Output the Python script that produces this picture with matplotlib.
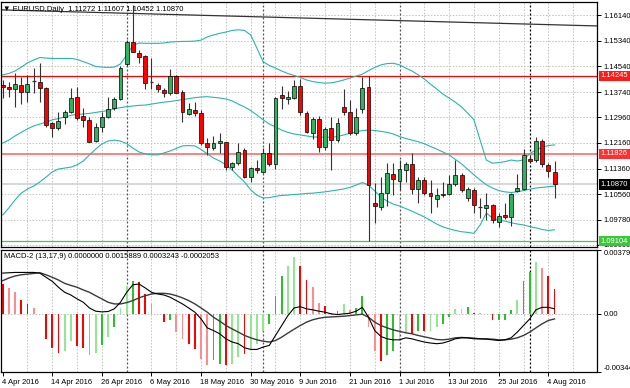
import matplotlib
matplotlib.use('Agg')
import matplotlib.pyplot as plt
import matplotlib.transforms as mtrans
import numpy as np

plt.rcParams['font.family'] = ['Liberation Sans', 'DejaVu Sans']

# ---------------- data ----------------
header_text = '\u25bc EURUSD,Daily  1.11272 1.11607 1.10452 1.10870'
macd_text = 'MACD-2 (13,17,9) 0.0000000 0.0015889 0.0003243 -0.0002053'

x_labels = ['4 Apr 2016', '14 Apr 2016', '26 Apr 2016', '6 May 2016', '18 May 2016',
            '30 May 2016', '9 Jun 2016', '21 Jun 2016', '1 Jul 2016', '13 Jul 2016',
            '25 Jul 2016', '4 Aug 2016']
label_bars = [0, 8, 16, 24, 32, 40, 48, 56, 64, 72, 80, 88]
month_start_bars = [20, 42, 64, 85]

opens = [1.1396, 1.1389, 1.1385, 1.1396, 1.1376, 1.1408, 1.1407, 1.1386, 1.1277, 1.1262,
         1.1298, 1.1313, 1.1358, 1.1300, 1.1288, 1.1222, 1.1267, 1.1296, 1.1324, 1.1353,
         1.1461, 1.1531, 1.1497, 1.1487, 1.1405, 1.1396, 1.1381, 1.1371, 1.1424, 1.1376,
         1.1306, 1.1319, 1.1310, 1.1215, 1.1199, 1.1215, 1.1218, 1.1140, 1.1153, 1.1194,
         1.1111, 1.1139, 1.1126, 1.1186, 1.1151, 1.1365, 1.1353, 1.1355, 1.1393, 1.1310,
         1.1246, 1.1290, 1.1204, 1.1262, 1.1225, 1.1327, 1.1313, 1.1246, 1.1321, 1.1389,
         1.1028, 1.1018, 1.1062, 1.1120, 1.1099, 1.1132, 1.1150, 1.1072, 1.1101, 1.1059,
         1.1043, 1.1054, 1.1057, 1.1088, 1.1116, 1.1046, 1.1070, 1.1018, 1.1013, 1.1022,
         1.0971, 1.0992, 1.0985, 1.1067, 1.1072, 1.1165, 1.1163, 1.1222, 1.1147, 1.11272]
highs = [1.1412, 1.1407, 1.1433, 1.1422, 1.1428, 1.1448, 1.1464, 1.1391, 1.1282, 1.1313,
         1.1319, 1.1386, 1.1391, 1.1324, 1.1298, 1.1277, 1.1313, 1.1360, 1.1360, 1.1455,
         1.1536, 1.1645, 1.1505, 1.1490, 1.1480, 1.1402, 1.1386, 1.1445, 1.1428, 1.1381,
         1.1339, 1.1344, 1.1319, 1.1231, 1.1238, 1.1246, 1.1220, 1.1158, 1.1215, 1.1199,
         1.1142, 1.1163, 1.1199, 1.1217, 1.1360, 1.1393, 1.1379, 1.1412, 1.1414, 1.1316,
         1.1298, 1.1300, 1.1267, 1.1296, 1.1293, 1.1383, 1.1350, 1.1324, 1.1422, 1.1424,
         1.1091, 1.1111, 1.1153, 1.1153, 1.1163, 1.1158, 1.1186, 1.1111, 1.1111, 1.1101,
         1.1075, 1.1096, 1.1116, 1.1163, 1.1122, 1.1080, 1.1075, 1.1044, 1.1060, 1.1025,
         1.0997, 1.1028, 1.1060, 1.1120, 1.1196, 1.1179, 1.1234, 1.1228, 1.1155, 1.11607]
lows = [1.1355, 1.1360, 1.1329, 1.1337, 1.1344, 1.1371, 1.1344, 1.1267, 1.1234, 1.1256,
        1.1275, 1.1308, 1.1288, 1.1267, 1.1219, 1.1219, 1.1251, 1.1295, 1.1319, 1.1350,
        1.1455, 1.1498, 1.1464, 1.1383, 1.1383, 1.1376, 1.1358, 1.1365, 1.1371, 1.1282,
        1.1303, 1.1300, 1.1210, 1.1179, 1.1194, 1.1184, 1.1132, 1.1132, 1.1148, 1.1106,
        1.1096, 1.1122, 1.1123, 1.1144, 1.1134, 1.1321, 1.1337, 1.1352, 1.1303, 1.1246,
        1.1228, 1.1189, 1.1194, 1.1132, 1.1220, 1.1303, 1.1241, 1.1241, 1.1308, 1.0912,
        1.0968, 1.1008, 1.1020, 1.1054, 1.1070, 1.1096, 1.1057, 1.1028, 1.1054, 1.0997,
        1.1016, 1.1049, 1.1054, 1.1082, 1.1065, 1.1036, 1.0999, 1.0982, 1.0977, 1.0966,
        1.0956, 1.0979, 1.0958, 1.1065, 1.1070, 1.1157, 1.1158, 1.1142, 1.1111, 1.10452]
closes = [1.1390, 1.1383, 1.1399, 1.1376, 1.1400, 1.1409, 1.1388, 1.1272, 1.1262, 1.1284,
          1.1311, 1.1355, 1.1293, 1.1288, 1.1220, 1.1267, 1.1298, 1.1321, 1.1352, 1.1450,
          1.1531, 1.1500, 1.1483, 1.1404, 1.1404, 1.1383, 1.1373, 1.1424, 1.1373, 1.1311,
          1.1321, 1.1310, 1.1215, 1.1203, 1.1217, 1.1222, 1.1140, 1.1153, 1.1188, 1.1111,
          1.1137, 1.1132, 1.1186, 1.1151, 1.1355, 1.1355, 1.1358, 1.1393, 1.1313, 1.1251,
          1.1290, 1.1204, 1.1259, 1.1225, 1.1279, 1.1313, 1.1246, 1.1296, 1.1386, 1.1085,
          1.1021, 1.1062, 1.1122, 1.1105, 1.1134, 1.1150, 1.1073, 1.1101, 1.1062, 1.1052,
          1.1054, 1.1057, 1.1087, 1.1116, 1.1070, 1.1073, 1.1023, 1.1017, 1.1022, 1.0975,
          1.0989, 1.0985, 1.1057, 1.1075, 1.1179, 1.1161, 1.1222, 1.1150, 1.1130, 1.10870]

bb_upper = [1.1428, 1.1432, 1.1440, 1.1452, 1.1465, 1.1474, 1.1482, 1.1480, 1.1479, 1.1479,
            1.1479, 1.1479, 1.1476, 1.1469, 1.1462, 1.1454, 1.1452, 1.1451, 1.1452, 1.1462,
            1.1490, 1.1519, 1.1527, 1.1526, 1.1526, 1.1526, 1.1527, 1.1530, 1.1531, 1.1532,
            1.1532, 1.1533, 1.1536, 1.1546, 1.1552, 1.1557, 1.1561, 1.1566, 1.1568, 1.1566,
            1.1552, 1.1511, 1.1469, 1.1457, 1.1449, 1.1440, 1.1432, 1.1426, 1.1420, 1.1412,
            1.1407, 1.1404, 1.1402, 1.1403, 1.1407, 1.1412, 1.1418, 1.1424, 1.1430, 1.1441,
            1.1451, 1.1459, 1.1463, 1.1464, 1.1459, 1.1449, 1.1440, 1.1428, 1.1415, 1.1399,
            1.1384, 1.1368, 1.1356, 1.1343, 1.1328, 1.1309, 1.1288, 1.1225, 1.1163, 1.1153,
            1.1155, 1.1158, 1.1163, 1.1160, 1.1163, 1.1183, 1.1194, 1.1203, 1.1208, 1.1210]
bb_mid = [1.1216, 1.1225, 1.1238, 1.1249, 1.1260, 1.1269, 1.1275, 1.1281, 1.1288, 1.1292,
          1.1297, 1.1302, 1.1305, 1.1306, 1.1308, 1.1311, 1.1314, 1.1317, 1.1322, 1.1326,
          1.1329, 1.1331, 1.1333, 1.1334, 1.1337, 1.1340, 1.1343, 1.1345, 1.1348, 1.1351,
          1.1354, 1.1357, 1.1359, 1.1360, 1.1358, 1.1356, 1.1353, 1.1347, 1.1337, 1.1328,
          1.1317, 1.1303, 1.1288, 1.1275, 1.1266, 1.1256, 1.1249, 1.1244, 1.1241, 1.1238,
          1.1235, 1.1234, 1.1234, 1.1234, 1.1236, 1.1241, 1.1246, 1.1250, 1.1255, 1.1256,
          1.1255, 1.1252, 1.1249, 1.1244, 1.1236, 1.1230, 1.1225, 1.1220, 1.1214, 1.1205,
          1.1197, 1.1188, 1.1179, 1.1165, 1.1151, 1.1134, 1.1117, 1.1101, 1.1086, 1.1076,
          1.1068, 1.1064, 1.1062, 1.1064, 1.1068, 1.1072, 1.1076, 1.1078, 1.1080, 1.1082]
bb_lower = [1.0992, 1.1014, 1.1039, 1.1060, 1.1073, 1.1082, 1.1095, 1.1110, 1.1126, 1.1135,
            1.1138, 1.1141, 1.1148, 1.1160, 1.1179, 1.1197, 1.1213, 1.1222, 1.1225, 1.1222,
            1.1214, 1.1200, 1.1188, 1.1182, 1.1179, 1.1179, 1.1185, 1.1191, 1.1199, 1.1207,
            1.1208, 1.1207, 1.1196, 1.1182, 1.1169, 1.1160, 1.1148, 1.1132, 1.1113, 1.1095,
            1.1070, 1.1054, 1.1045, 1.1046, 1.1050, 1.1053, 1.1054, 1.1056, 1.1057, 1.1059,
            1.1060, 1.1062, 1.1064, 1.1067, 1.1070, 1.1073, 1.1078, 1.1085, 1.1093, 1.1085,
            1.1067, 1.1048, 1.1035, 1.1026, 1.1020, 1.1012, 1.1004, 1.0995, 1.0986, 1.0975,
            1.0964, 1.0955, 1.0949, 1.0944, 1.0940, 1.0938, 1.0935, 1.0961, 1.0998, 1.0983,
            1.0977, 1.0973, 1.0968, 1.0964, 1.0961, 1.0956, 1.0952, 1.0947, 1.0944, 1.0946]

macd_hist = [0.00177, 0.00154, 0.00128, 0.00083, 0.00059, 0.00035, -0.00003, -0.00148, -0.00201, -0.00232,
             -0.00221, -0.00162, -0.00193, -0.00201, -0.00246, -0.00232, -0.00187, -0.00138, -0.00075, 0.00033,
             0.00167, 0.00197, 0.00191, 0.00118, 0.00059, 0.00002, -0.00049, -0.00039, -0.00108, -0.00148,
             -0.00177, -0.00207, -0.00266, -0.00305, -0.00276, -0.00296, -0.00305, -0.00296, -0.00256, -0.00236,
             -0.00217, -0.00177, -0.00099, -0.00063, 0.00108, 0.00227, 0.00286, 0.00335, 0.00286, 0.00201,
             0.00162, 0.00063, 0.00045, 0.00006, 0.00016, 0.00059, 0.00024, 0.00035, 0.00108, -0.00075,
             -0.00221, -0.00280, -0.00246, -0.00221, -0.00158, -0.00108, -0.00122, -0.00099, -0.00099, -0.00099,
             -0.00079, -0.00063, -0.00016, 0.00030, 0.00030, 0.00039, 0.00006, 0.00004, 0.00001, -0.00039,
             -0.00039, -0.00035, 0.00024, 0.00083, 0.00197, 0.00246, 0.00305, 0.00272, 0.00227, 0.00148]
macd_tone = ['R', 'r', 'r', 'R', 'R', 'r', 'r', 'R', 'R', 'R',
             'g', 'g', 'R', 'R', 'r', 'g', 'G', 'g', 'G', 'g',
             'g', 'G', 'R', 'R', 'r', 'r', 'R', 'G', 'r', 'r',
             'R', 'R', 'r', 'r', 'G', 'G', 'R', 'g', 'g', 'R',
             'g', 'g', 'g', 'G', 'G', 'G', 'g', 'g', 'R', 'R',
             'r', 'r', 'R', 'R', 'G', 'g', 'r', 'G', 'G', 'r',
             'r', 'R', 'G', 'G', 'g', 'g', 'R', 'G', 'R', 'g',
             'g', 'G', 'G', 'g', 'g', 'G', 'R', 'r', 'r', 'R',
             'G', 'G', 'G', 'g', 'G', 'G', 'g', 'r', 'R', 'R']
macd_main = [0.00242, 0.00244, 0.00246, 0.00246, 0.00246, 0.00246, 0.00242, 0.00217, 0.00193, 0.00158,
             0.00128, 0.00112, 0.00089, 0.00069, 0.00035, 0.00016, 0.00012, 0.00014, 0.00030, 0.00069,
             0.00128, 0.00173, 0.00177, 0.00154, 0.00128, 0.00118, 0.00112, 0.00099, 0.00079, 0.00059,
             0.00035, 0.00010, -0.00030, -0.00083, -0.00099, -0.00118, -0.00148, -0.00167, -0.00177, -0.00201,
             -0.00211, -0.00211, -0.00197, -0.00187, -0.00128, -0.00069, -0.00010, 0.00035, 0.00043, 0.00030,
             0.00024, 0.00016, 0.00010, 0.00000, -0.00004, 0.00000, 0.00004, 0.00016, 0.00039, -0.00020,
             -0.00099, -0.00134, -0.00148, -0.00154, -0.00154, -0.00142, -0.00148, -0.00158, -0.00167, -0.00173,
             -0.00177, -0.00173, -0.00162, -0.00148, -0.00142, -0.00142, -0.00148, -0.00148, -0.00150, -0.00154,
             -0.00158, -0.00154, -0.00142, -0.00108, -0.00069, -0.00030, 0.00024, 0.00039, 0.00039, 0.00030]
macd_signal = [0.00197, 0.00213, 0.00225, 0.00232, 0.00236, 0.00240, 0.00244, 0.00232, 0.00217, 0.00201,
               0.00181, 0.00169, 0.00158, 0.00142, 0.00128, 0.00108, 0.00089, 0.00069, 0.00059, 0.00059,
               0.00067, 0.00079, 0.00095, 0.00108, 0.00118, 0.00122, 0.00122, 0.00118, 0.00108, 0.00095,
               0.00079, 0.00059, 0.00035, 0.00010, -0.00020, -0.00043, -0.00069, -0.00089, -0.00108, -0.00128,
               -0.00142, -0.00154, -0.00162, -0.00167, -0.00158, -0.00138, -0.00114, -0.00091, -0.00069, -0.00049,
               -0.00035, -0.00026, -0.00020, -0.00018, -0.00016, -0.00014, -0.00010, -0.00006, -0.00002, -0.00020,
               -0.00049, -0.00069, -0.00083, -0.00095, -0.00104, -0.00112, -0.00118, -0.00128, -0.00136, -0.00144,
               -0.00152, -0.00154, -0.00150, -0.00142, -0.00140, -0.00142, -0.00144, -0.00148, -0.00148, -0.00150,
               -0.00154, -0.00154, -0.00150, -0.00142, -0.00128, -0.00108, -0.00083, -0.00059, -0.00039, -0.00030]

price_ticks = [1.16140, 1.15340, 1.14540, 1.13740, 1.12960, 1.12160, 1.11360, 1.10560, 1.09780, 1.09000]
price_tick_labels = ['1.16140', '1.15340', '1.14540', '1.13740', '1.12960', '1.12160',
                     '1.11360', '1.10560', '1.09780', '1.09000']
macd_ticks = [0.003791, 0.0, -0.003449]
macd_tick_labels = ['0.003791', '0.00', '-0.003449']

level_red = 1.14245
level_pink = 1.11826
level_bid = 1.10870
level_green = 1.09104
trend_bars = [-0.3, 95.9]
trend_prices = [1.1630, 1.1580]

# ---------------- figure ----------------
W, H = 630, 388
fig = plt.figure(figsize=(W / 100, H / 100), dpi=100)
fig.patch.set_facecolor('white')

ax = fig.add_axes([1 / W, (H - 247) / H, 596 / W, 245 / H])
ax2 = fig.add_axes([1 / W, (H - 372) / H, 596 / W, 122 / H])

n = len(opens)
xs = np.arange(n)
xlim = (-0.27, 95.85)
FS = 5.5
grid_kw = dict(color='#c4c4c4', lw=0.7, ls=(0, (1.6, 1.6)), zorder=0.5)

for a in (ax, ax2):
    a.set_xlim(*xlim)
    a.set_facecolor('white')
    for s in a.spines.values():
        s.set_color('black')
        s.set_linewidth(0.9)
    for k in range(4, 96, 4):
        if k not in month_start_bars:
            a.axvline(k, **grid_kw)
    for k in month_start_bars:
        col = 'black' if k == month_start_bars[-1] else '#555555'
        a.axvline(k, color=col, lw=0.9, ls=(0, (1.6, 1.6)), zorder=0.6)

# main panel
ax.set_ylim(1.08925, 1.16545)
for p in price_ticks:
    ax.axhline(p, **grid_kw)

ax.axhline(level_red, color='#ff0000', lw=0.9, zorder=1)
ax.axhline(level_pink, color='#ff8080', lw=1.4, zorder=1)
ax.axhline(level_bid, color='#d4d4d4', lw=1.3, zorder=1)
ax.axhline(level_green, color='#3ccf3c', lw=0.9, zorder=1)

ax.plot(trend_bars, trend_prices, color='#333333', lw=0.9, zorder=1.2)

band_col = '#2ab5ad'
ax.plot(xs, bb_upper, color=band_col, lw=0.8, zorder=1.5)
ax.plot(xs, bb_mid, color=band_col, lw=0.8, zorder=1.5)
ax.plot(xs, bb_lower, color=band_col, lw=0.8, zorder=1.5)

o = np.array(opens); c = np.array(closes); hi = np.array(highs); lo = np.array(lows)
ax.vlines(xs, lo, hi, color='#333333', lw=0.8, zorder=2)
bw = 0.64
for i in range(n):
    if abs(c[i] - o[i]) < 0.00012:
        ax.hlines((o[i] + c[i]) / 2, i - bw / 2, i + bw / 2, color='#333333', lw=0.9, zorder=3)
        continue
    fc = '#2fb35f' if c[i] > o[i] else '#ff0000'
    ax.bar(i, c[i] - o[i], bottom=o[i], width=bw, color=fc, edgecolor='black',
           linewidth=0.5, zorder=3)

ax.set_xticks([])
ax.yaxis.tick_right()
ax.set_yticks(price_ticks)
ax.set_yticklabels(price_tick_labels, fontsize=FS)
ax.tick_params(axis='y', direction='out', length=3, width=0.7, pad=1.5, colors='black')

yt = mtrans.blended_transform_factory(ax.transAxes, ax.transData)
for val, fc, tc in [(level_red, '#ff1a1a', 'white'), (level_pink, '#ff3030', 'white'),
                    (level_bid, 'black', 'white'), (level_green, '#38c838', 'white')]:
    ax.text(1.0065, val, f'{val:.5f}', transform=yt, fontsize=FS, color=tc, va='center',
            ha='left', clip_on=False, zorder=10,
            bbox=dict(boxstyle='square,pad=0.22', fc=fc, ec='none'))

ax.text(0.004, 0.985, header_text, transform=ax.transAxes, fontsize=FS, va='top',
        ha='left', color='black', zorder=10)

# MACD panel
ax2.set_ylim(-0.003449, 0.003791)
ax2.axhline(0, **grid_kw)
tone_col = {'R': '#ff0000', 'r': '#ff8c8c', 'G': '#2cc02c', 'g': '#92e892'}
ax2.bar(xs, macd_hist, width=0.3, color=[tone_col[t] for t in macd_tone], linewidth=0, zorder=2)
ax2.plot(xs, macd_signal, color='#3a3a3a', lw=1.0, zorder=3)
ax2.plot(xs, macd_main, color='black', lw=0.8, zorder=3)

ax2.yaxis.tick_right()
ax2.set_yticks(macd_ticks)
ax2.set_yticklabels(macd_tick_labels, fontsize=FS)
ax2.tick_params(axis='y', direction='out', length=3, width=0.7, pad=1.5)
tl = ax2.get_yticklabels()
tl[0].set_verticalalignment('top')
tl[2].set_verticalalignment('bottom')

ax2.set_xticks(label_bars)
ax2.set_xticklabels(x_labels, fontsize=FS, ha='left')
ax2.tick_params(axis='x', direction='out', length=3, width=0.7, pad=2)
for lab in ax2.get_xticklabels():
    lab.set_transform(lab.get_transform() + mtrans.ScaledTranslation(-1 / 100, 0, fig.dpi_scale_trans))

ax2.text(0.005, 0.975, macd_text, transform=ax2.transAxes, fontsize=FS, va='top',
         ha='left', color='black', zorder=10)

fig.savefig('out.png', dpi=100, facecolor='white')
